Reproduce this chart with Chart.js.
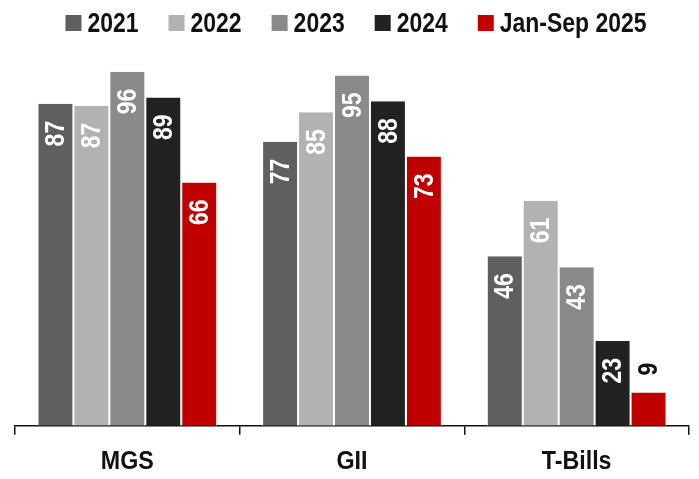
<!DOCTYPE html>
<html>
<head>
<meta charset="utf-8">
<script src="https://cdn.jsdelivr.net/npm/chart.js@4"></script>
<style>
  html, body { margin: 0; padding: 0; background: #fff; }
  .chart-box { width: 699px; height: 479px; }
</style>
</head>
<body>
<div class="chart-box"><canvas id="barChart"></canvas></div>
<script>
const categories = ['MGS', 'GII', 'T-Bills'];
const seriesNames = ['2021', '2022', '2023', '2024', 'Jan-Sep 2025'];
const values2021 = [87.3, 77, 46];
const values2022 = [86.8, 85, 61];
const values2023 = [96, 95, 43];
const values2024 = [89, 88, 23];
const values2025 = [66, 73, 9];
const seriesColors = ['#5f5f5f', '#b2b2b2', '#8a8a8a', '#222222', '#c00000'];

const FONT = '"Liberation Sans", Arial, sans-serif';
const SQUEEZE = 0.82; // no narrow font installed, so squash the text horizontally

const allValues = [values2021, values2022, values2023, values2024, values2025];

function narrowWidth(ctx, txt, squeeze) {
    return ctx.measureText(txt).width * squeeze;
}

function drawNarrow(ctx, txt, x, y, align, squeeze) {
    const w = narrowWidth(ctx, txt, squeeze);
    let left = x;
    if (align === 'center') left = x - w / 2;
    if (align === 'right') left = x - w;
    ctx.save();
    ctx.translate(left, y);
    ctx.scale(squeeze, 1);
    ctx.textAlign = 'left';
    ctx.fillText(txt, 0, 0);
    ctx.restore();
}

// legend drawn by hand so the box/text spacing matches
const topLegend = {
    id: 'topLegend',
    afterDraw(chart) {
        const ctx = chart.ctx;
        ctx.save();
        ctx.font = 'bold 28px ' + FONT;
        ctx.textBaseline = 'middle';
        const box = 16, gap = 6, spacing = 30;
        const widths = seriesNames.map(n => narrowWidth(ctx, n, SQUEEZE));
        const total = widths.reduce((a, b) => a + b, 0) + seriesNames.length * (box + gap) + (seriesNames.length - 1) * spacing;
        let x = 356 - total / 2;
        const y = 23;
        seriesNames.forEach((name, i) => {
            ctx.fillStyle = seriesColors[i];
            ctx.fillRect(x, y - box / 2, box, box);
            ctx.fillStyle = '#111';
            drawNarrow(ctx, name, x + box + gap, y + 1, 'left', SQUEEZE);
            x += box + gap + widths[i] + spacing;
        });
        ctx.restore();
    }
};

// category names under the axis
const categoryLabels = {
    id: 'categoryLabels',
    afterDraw(chart) {
        const ctx = chart.ctx;
        const xScale = chart.scales.x;
        ctx.save();
        ctx.font = 'bold 25px ' + FONT;
        ctx.textBaseline = 'middle';
        ctx.fillStyle = '#111';
        categories.forEach((c, i) => {
            drawNarrow(ctx, c, xScale.getPixelForValue(i), 462, 'center', 0.93);
        });
        ctx.restore();
    }
};

// value labels, rotated, inside the top of the bar (above it when the bar is short)
const barLabels = {
    id: 'barLabels',
    afterDatasetsDraw(chart) {
        const ctx = chart.ctx;
        ctx.save();
        ctx.font = 'bold 28px ' + FONT;
        ctx.textBaseline = 'middle';
        chart.data.datasets.forEach((ds, di) => {
            const meta = chart.getDatasetMeta(di);
            meta.data.forEach((bar, i) => {
                const v = ds.data[i];
                const txt = String(Math.round(v));
                ctx.save();
                if (v >= 15) {
                    ctx.translate(bar.x, bar.y + 17);
                    ctx.rotate(-Math.PI / 2);
                    ctx.fillStyle = '#fff';
                    drawNarrow(ctx, txt, 0, 1, 'right', SQUEEZE);
                } else {
                    ctx.translate(bar.x, bar.y - 17);
                    ctx.rotate(-Math.PI / 2);
                    ctx.fillStyle = '#111';
                    drawNarrow(ctx, txt, 0, 1, 'left', SQUEEZE);
                }
                ctx.restore();
            });
        });
        ctx.restore();
    }
};

new Chart(document.getElementById('barChart'), {
    type: 'bar',
    data: {
        labels: categories,
        datasets: seriesNames.map((name, i) => ({
            label: name,
            data: allValues[i],
            backgroundColor: seriesColors[i],
            borderColor: '#ffffff',
            borderWidth: { left: 1, right: 1, top: 0, bottom: 0 },
            categoryPercentage: 0.8,
            barPercentage: 1.0
        }))
    },
    options: {
        responsive: true,
        maintainAspectRatio: false,
        animation: false,
        layout: { padding: { top: 57, left: 15, right: 10, bottom: 3 } },
        plugins: {
            legend: { display: false },
            tooltip: { enabled: false }
        },
        scales: {
            x: {
                grid: {
                    offset: true,
                    drawOnChartArea: false,
                    drawTicks: true,
                    tickLength: 9,
                    color: '#111',
                    lineWidth: 1.5
                },
                border: { color: '#111', width: 1.5 },
                ticks: {
                    color: 'rgba(0,0,0,0)',
                    padding: 5,
                    font: { family: FONT, size: 26, weight: 'bold' }
                }
            },
            y: {
                display: false,
                min: 0,
                max: 100
            }
        }
    },
    plugins: [topLegend, categoryLabels, barLabels]
});
</script>
</body>
</html>
